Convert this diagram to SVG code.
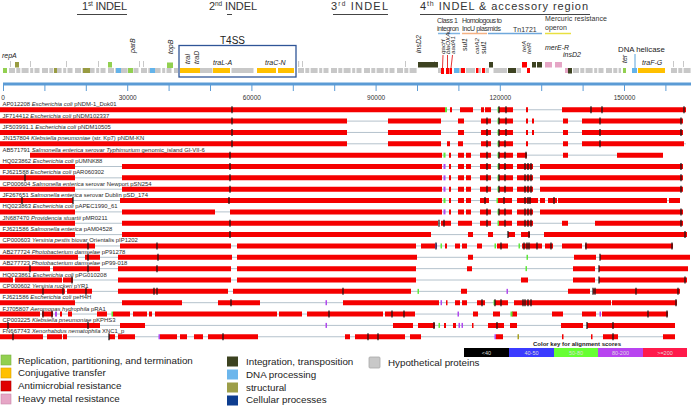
<svg xmlns="http://www.w3.org/2000/svg" width="691" height="406" viewBox="0 0 691 406">
<style>
text{font-family:"Liberation Sans",Arial,sans-serif;fill:#222}
.hd{font-size:11px;fill:#333}
.cat{font-size:7px;fill:#333}
.gl{font-size:7px;font-style:italic;fill:#222}
.gs{font-size:6.2px;font-style:italic;fill:#222}
.ax{font-size:6.5px;fill:#333;text-anchor:middle}
.lbl{font-size:5.9px;fill:#2a2a2a}
.i{font-style:italic}
.lg{font-size:9.8px;fill:#222}
.r{fill:#f50000}
.bb{stroke:#b4c2cc;stroke-width:1}
.tk{stroke:#151515;stroke-width:1.2;fill:none}
.gm{fill:#5ee83a}
.pm{fill:#b048ee}
.gd{stroke:#c8c8c8;stroke-width:5;stroke-dasharray:6 1.3 4 1.3 7 1.6 3 1.3 5 2.5}
.gy{fill:#c8c8c8}
.grn{fill:#92d050}
.olv{fill:#989b41}
.blu{fill:#63b3ea}
.yel{fill:#ffc000}
.dol{fill:#3d4221}
.red{fill:#ff0000}
.pnk{fill:#e5a5c5}
.ul{stroke:#444;stroke-width:1}
.ck{font-size:5.5px;fill:#ddd;text-anchor:middle}
</style>

<g id="headers">
<text class="hd" x="82" y="10" textLength="45">1<tspan font-size="6.5" dy="-4">st</tspan><tspan dy="4"> INDEL</tspan></text>
<line class="ul" x1="77" y1="14.5" x2="127" y2="14.5"/>
<text class="hd" x="209" y="10" textLength="48">2<tspan font-size="6.5" dy="-4">nd</tspan><tspan dy="4"> INDEL</tspan></text>
<line class="ul" x1="227" y1="14.5" x2="232" y2="14.5"/>
<text class="hd" x="331" y="10" textLength="57">3<tspan font-size="6.5" dy="-4">rd</tspan><tspan dy="4"> INDEL</tspan></text>
<line class="ul" x1="333" y1="14.5" x2="388" y2="14.5"/>
<text class="hd" x="420" y="10" font-size="12" textLength="168">4<tspan font-size="7" dy="-4">th</tspan><tspan dy="4"> INDEL &amp; accessory region</tspan></text>
<line class="ul" x1="420" y1="14.5" x2="590" y2="14.5"/>
</g>

<g id="categories">
<text class="cat" x="437" y="23" textLength="21">Class 1</text>
<text class="cat" x="437" y="31" textLength="22">integron</text>
<line x1="438" y1="33.5" x2="460" y2="33.5" stroke="#7fb5e3" stroke-width="1.5"/>
<text class="cat" x="462" y="23" textLength="40">Homologous to</text>
<text class="cat" x="462" y="31" textLength="39">IncU plasmids</text>
<line x1="462" y1="33.5" x2="487" y2="33.5" stroke="#f4b183" stroke-width="1.5"/>
<text class="cat" x="513" y="31.5" font-size="8">Tn1721</text>
<line x1="488" y1="33.5" x2="542" y2="33.5" stroke="#6fa8dc" stroke-width="1.5"/>
<text class="cat" x="545" y="21" textLength="62">Mercuric resistance</text>
<text class="cat" x="545" y="29.5">operon</text>
<line x1="545" y1="33.5" x2="571" y2="33.5" stroke="#e8e040" stroke-width="1.5"/>
</g>

<g id="t4ss">
<rect x="179" y="45.5" width="117" height="31.5" fill="none" stroke="#2f5597" stroke-width="1.3"/>
<text x="232.5" y="44" font-size="10" text-anchor="middle" fill="#222">T4SS</text>
</g>

<g id="gene-track">
<line class="gd" x1="9" y1="70.5" x2="178" y2="70.5"/>
<line class="gd" x1="298" y1="70.5" x2="417" y2="70.5"/>
<line class="gd" x1="573" y1="70.5" x2="621" y2="70.5"/>
<line class="gd" x1="671" y1="70.5" x2="691" y2="70.5"/>
<g class="gy">
<rect x="438" y="68" width="3" height="5"/><rect x="459" y="68" width="2" height="5"/><rect x="466" y="68" width="9" height="5"/>
<rect x="479" y="68" width="2" height="5"/><rect x="485.5" y="68" width="3.5" height="5"/><rect x="493.5" y="68" width="13.5" height="5"/>
<rect x="516.5" y="68" width="4.5" height="5"/><rect x="200" y="68" width="12.5" height="5"/><rect x="231.5" y="68" width="22" height="5"/>
<rect x="10" y="61" width="1" height="6"/><rect x="30" y="61" width="1" height="6"/><rect x="66" y="61" width="1" height="6"/>
<rect x="98" y="61" width="1" height="6"/><rect x="139" y="61" width="1" height="6"/><rect x="143" y="61" width="1" height="6"/>
<rect x="298" y="61" width="1.2" height="6"/><rect x="302" y="61" width="1" height="6"/><rect x="405" y="61" width="1" height="6"/>
<rect x="434" y="61" width="1" height="6"/><rect x="673" y="61" width="1" height="6"/><rect x="683" y="61" width="1" height="6"/>
</g>
<g class="grn">
<rect x="3" y="68" width="4" height="5"/><rect x="108" y="62" width="4" height="5.5"/><rect x="128" y="68" width="5" height="5"/>
<rect x="167" y="62.5" width="6" height="5.5"/><rect x="623" y="68" width="3" height="5"/>
</g>
<g class="olv">
<rect x="15" y="62" width="4" height="5.5"/><rect x="54" y="68" width="3" height="5"/><rect x="83" y="68" width="7" height="5"/>
</g>
<g class="blu">
<rect x="116" y="68" width="5" height="5"/><rect x="150" y="68" width="5" height="5"/><rect x="454" y="68" width="5" height="5"/><rect x="632" y="68" width="5" height="5"/>
</g>
<g class="yel">
<rect x="180" y="68" width="20" height="5"/><rect x="213" y="68" width="17" height="5"/><rect x="257" y="68" width="19" height="5"/>
<rect x="278" y="68" width="16" height="5"/><rect x="638" y="68" width="27" height="5"/>
</g>
<g class="dol">
<rect x="418" y="62" width="20" height="5.5"/><rect x="489" y="62" width="4" height="5.5"/><rect x="508" y="68" width="8" height="5"/>
<rect x="532" y="62" width="4" height="5.5"/><rect x="537" y="62" width="5" height="5.5"/><rect x="568" y="68" width="4" height="5.5"/>
</g>
<g class="red">
<rect x="441" y="68" width="3" height="6"/><rect x="446" y="68" width="3" height="6"/><rect x="449.5" y="68" width="2.5" height="6"/>
<rect x="461" y="68" width="4" height="5"/><rect x="476" y="68" width="2.5" height="5"/><rect x="482" y="68" width="3" height="5"/>
<rect x="522" y="62" width="5" height="5.5"/><rect x="527" y="68" width="3" height="5"/>
</g>
<g class="pnk">
<rect x="545" y="62" width="7" height="5.5"/><rect x="555" y="62" width="7" height="5.5"/><rect x="565" y="68" width="3" height="5"/>
</g>
<g stroke="#e00000" stroke-width="0.8">
<line x1="443" y1="55" x2="442.5" y2="68"/><line x1="447.5" y1="55" x2="447.5" y2="68"/><line x1="452.5" y1="55" x2="451" y2="68"/>
</g>
<line x1="635" y1="54" x2="635" y2="68" stroke="#5ba3dc" stroke-width="1"/>
<text class="gl" x="2" y="58">repA</text>
<text class="gl" transform="translate(134.5,53) rotate(-90)">parB</text>
<text class="gl" transform="translate(172.5,54) rotate(-90)">topB</text>
<text class="gl" transform="translate(189.5,64) rotate(-90)">traI</text>
<text class="gl" transform="translate(199,64) rotate(-90)">traD</text>
<text class="gl" x="213" y="65">traL-A</text>
<text class="gl" x="265" y="65">traC-N</text>
<text class="gl" transform="translate(421,53) rotate(-90)">insD2</text>
<text class="gs" transform="translate(445,54) rotate(-90)">qacH</text>
<text class="gs" transform="translate(449.5,54) rotate(-90)">blaOXA</text>
<text class="gs" transform="translate(454.5,54) rotate(-90)">aadA1</text>
<text class="gl" transform="translate(466.5,51) rotate(-90)">sul1</text>
<text class="gs" transform="translate(478.5,54) rotate(-90)">catA2</text>
<text class="gl" transform="translate(485.5,54) rotate(-90)">sul1</text>
<text class="gs" transform="translate(525.5,52) rotate(-90)">tetA</text>
<text class="gs" transform="translate(530.5,54) rotate(-90)">tetR</text>
<text class="gl" x="545" y="50">merE-R</text>
<text class="gl" x="563" y="57">insD2</text>
<text class="gl" transform="translate(626.5,63) rotate(-90)">ter</text>
<text x="618" y="52" font-size="7.8" fill="#222">DNA helicase</text>
<text class="gl" x="642" y="65">traF-G</text>
</g>

<g id="axis">
<line x1="3" y1="84" x2="691" y2="84" stroke="#5b9bd5" stroke-width="3"/>
<path d="M3.5 84V91M44.9 84V91M86.3 84V91M127.7 84V91M169.1 84V91M210.5 84V91M251.9 84V91M293.3 84V91M334.7 84V91M376.1 84V91M417.5 84V91M458.9 84V91M500.3 84V91M541.7 84V91M583.1 84V91M624.5 84V91M665.9 84V91" stroke="#5b9bd5" stroke-width="1"/>
<text class="ax" x="3" y="99.5">0</text>
<text class="ax" x="127.7" y="99.5">30000</text>
<text class="ax" x="251.9" y="99.5">60000</text>
<text class="ax" x="376.1" y="99.5">90000</text>
<text class="ax" x="500.3" y="99.5">120000</text>
<text class="ax" x="624.5" y="99.5">150000</text>
</g>

<g id="alignments">
<g id="row1" transform="translate(0,109.75)">
<line class="bb" x1="0" y1="0" x2="686" y2="0"/>
<path class="r" d="M0-2.5H445V2.5H0ZM450-2.5H452V2.5H450ZM460-2.5H473V2.5H460ZM481-2.5H484V2.5H481ZM485-2.5H491V2.5H485ZM498-2.5H513V2.5H498ZM526-2.5H528V2.5H526ZM562-2.5H686V2.5H562Z"/>
<rect class="gm" x="445" y="-2.5" width="2" height="5"/><rect class="gm" x="497.5" y="-2.5" width="1.5" height="5"/>
<path class="tk" d="M232-3.5V3.5M499-3.5V3.5M506-3.5V3.5M591-3.5V3.5M602-3.5V3.5M684-3.5V3.5"/>
<text class="lbl" x="2.5" y="-3.5">AP012208 <tspan class="i">Escherichia coli</tspan> pNDM-1_Dok01</text>
</g>
<g id="row2" transform="translate(0,121.1)">
<line class="bb" x1="0" y1="0" x2="683" y2="0"/>
<path class="r" d="M0-2.5H347V2.5H0ZM388-2.5H441V2.5H388ZM458-2.5H464V2.5H458ZM481-2.5H491V2.5H481ZM498-2.5H513V2.5H498ZM526-2.5H528V2.5H526ZM532-2.5H534V2.5H532ZM563-2.5H568V2.5H563ZM582-2.5H683V2.5H582Z"/>
<rect class="gm" x="497.5" y="-2.5" width="1.5" height="5"/>
<path class="tk" d="M232-3.5V3.5M487-3.5V3.5M499-3.5V3.5M506-3.5V3.5M600-3.5V3.5M681-3.5V3.5"/>
<text class="lbl" x="2.5" y="-3.5">JF714412 <tspan class="i">Escherichia coli</tspan> pNDM102337</text>
</g>
<g id="row3" transform="translate(0,132.45)">
<line class="bb" x1="0" y1="0" x2="683" y2="0"/>
<path class="r" d="M0-2.5H347V2.5H0ZM388-2.5H441V2.5H388ZM458-2.5H464V2.5H458ZM481-2.5H491V2.5H481ZM498-2.5H513V2.5H498ZM526-2.5H528V2.5H526ZM532-2.5H534V2.5H532ZM563-2.5H568V2.5H563ZM582-2.5H683V2.5H582Z"/>
<rect class="gm" x="497.5" y="-2.5" width="1.5" height="5"/>
<path class="tk" d="M232-3.5V3.5M487-3.5V3.5M499-3.5V3.5M506-3.5V3.5M600-3.5V3.5M681-3.5V3.5"/>
<text class="lbl" x="2.5" y="-3.5">JF503991.1 <tspan class="i">Escherichia coli</tspan> pNDM10505</text>
</g>
<g id="row4" transform="translate(0,143.8)">
<line class="bb" x1="0" y1="0" x2="686" y2="0"/>
<path class="r" d="M0-2.5H347V2.5H0ZM388-2.5H441V2.5H388ZM447-2.5H450V2.5H447ZM458-2.5H463V2.5H458ZM481-2.5H491V2.5H481ZM498-2.5H513V2.5H498ZM526-2.5H528V2.5H526ZM563-2.5H568V2.5H563ZM582-2.5H684V2.5H582Z"/>
<rect class="gm" x="497.5" y="-2.5" width="1.5" height="5"/>
<path class="tk" d="M232-3.5V3.5M487-3.5V3.5M499-3.5V3.5M505-3.5V3.5M600-3.5V3.5"/>
<text class="lbl" x="2.5" y="-3.5">JN157804 <tspan class="i">Klebsiella pneumoniae</tspan> (str. Kp7) pNDM-KN</text>
</g>
<g id="row5" transform="translate(0,155.15)">
<line class="bb" x1="30" y1="0" x2="663" y2="0"/>
<path class="r" d="M30-2.5H442V2.5H30ZM449-2.5H451V2.5H449ZM458-2.5H464V2.5H458ZM466-2.5H471V2.5H466ZM480-2.5H491V2.5H480ZM498-2.5H513V2.5H498ZM517-2.5H527V2.5H517ZM563-2.5H568V2.5H563ZM617-2.5H663V2.5H617Z"/>
<rect class="gm" x="443.5" y="-2.5" width="2" height="5"/><rect class="gm" x="497.5" y="-2.5" width="1.5" height="5"/>
<path class="tk" d="M230-3.5V3.5M487-3.5V3.5M499-3.5V3.5M505-3.5V3.5M526-3.5V3.5"/>
<text class="lbl" x="2.5" y="-3.5">AB571791 <tspan class="i">Salmonella enterica serovar Typhimurium</tspan> genomic_island GI-VII-6</text>
</g>
<g id="row6" transform="translate(0,166.5)">
<line class="bb" x1="0" y1="0" x2="683" y2="0"/>
<path class="r" d="M0-2.5H75V2.5H0ZM122-2.5H442V2.5H122ZM449-2.5H451V2.5H449ZM458-2.5H464V2.5H458ZM466-2.5H471V2.5H466ZM480-2.5H491V2.5H480ZM498-2.5H513V2.5H498ZM517-2.5H533V2.5H517ZM540-2.5H683V2.5H540Z"/>
<rect class="pm" x="443.5" y="-2.5" width="2" height="5"/><rect class="gm" x="497.5" y="-2.5" width="1.5" height="5"/>
<path class="tk" d="M230-3.5V3.5M487-3.5V3.5M499-3.5V3.5M505-3.5V3.5M525-3.5V3.5M528-3.5V3.5M531-3.5V3.5M681-3.5V3.5"/>
<text class="lbl" x="2.5" y="-3.5">HQ023862 <tspan class="i">Escherichia coli</tspan> pUMNK88</text>
</g>
<g id="row7" transform="translate(0,177.85)">
<line class="bb" x1="0" y1="0" x2="683" y2="0"/>
<path class="r" d="M0-2.5H75V2.5H0ZM122-2.5H442V2.5H122ZM449-2.5H451V2.5H449ZM458-2.5H464V2.5H458ZM466-2.5H471V2.5H466ZM480-2.5H491V2.5H480ZM498-2.5H513V2.5H498ZM517-2.5H533V2.5H517ZM540-2.5H683V2.5H540Z"/>
<rect class="pm" x="443.5" y="-2.5" width="2" height="5"/><rect class="gm" x="497.5" y="-2.5" width="1.5" height="5"/>
<path class="tk" d="M25-3.5V3.5M230-3.5V3.5M487-3.5V3.5M499-3.5V3.5M505-3.5V3.5M525-3.5V3.5M528-3.5V3.5M531-3.5V3.5M681-3.5V3.5"/>
<text class="lbl" x="2.5" y="-3.5">FJ621588 <tspan class="i">Escherichia coli</tspan> pAR060302</text>
</g>
<g id="row8" transform="translate(0,189.2)">
<line class="bb" x1="0" y1="0" x2="683" y2="0"/>
<path class="r" d="M0-2.5H75V2.5H0ZM122-2.5H442V2.5H122ZM449-2.5H451V2.5H449ZM458-2.5H464V2.5H458ZM466-2.5H471V2.5H466ZM480-2.5H491V2.5H480ZM498-2.5H513V2.5H498ZM517-2.5H533V2.5H517ZM540-2.5H683V2.5H540Z"/>
<rect class="pm" x="443.5" y="-2.5" width="2" height="5"/><rect class="gm" x="497.5" y="-2.5" width="1.5" height="5"/>
<path class="tk" d="M230-3.5V3.5M487-3.5V3.5M499-3.5V3.5M505-3.5V3.5M525-3.5V3.5M528-3.5V3.5M531-3.5V3.5M681-3.5V3.5"/>
<text class="lbl" x="2.5" y="-3.5">CP000604 <tspan class="i">Salmonella enterica</tspan> serovar Newport pSN254</text>
</g>
<g id="row9" transform="translate(0,200.55)">
<line class="bb" x1="0" y1="0" x2="680" y2="0"/>
<path class="r" d="M0-2.5H73V2.5H0ZM120-2.5H442V2.5H120ZM449-2.5H451V2.5H449ZM458-2.5H464V2.5H458ZM466-2.5H471V2.5H466ZM480-2.5H489V2.5H480ZM497-2.5H512V2.5H497ZM517-2.5H538V2.5H517ZM540-2.5H545V2.5H540ZM548-2.5H557V2.5H548ZM558-2.5H667V2.5H558ZM669-2.5H680V2.5H669Z"/>
<rect class="gm" x="443.5" y="-2.5" width="2" height="5"/><rect class="gm" x="496.5" y="-2.5" width="1.5" height="5"/>
<path class="tk" d="M22-3.5V3.5M73-3.5V3.5M229-3.5V3.5M485-3.5V3.5M504-3.5V3.5M525-3.5V3.5M528-3.5V3.5M530-3.5V3.5M554-3.5V3.5"/>
<text class="lbl" x="2.5" y="-3.5">JF267651 <tspan class="i">Salmonella enterica</tspan> serovar Dublin pSD_174</text>
</g>
<g id="row10" transform="translate(0,211.9)">
<line class="bb" x1="0" y1="0" x2="683" y2="0"/>
<path class="r" d="M0-2.5H75V2.5H0ZM122-2.5H215V2.5H122ZM230-2.5H442V2.5H230ZM449-2.5H451V2.5H449ZM458-2.5H464V2.5H458ZM466-2.5H471V2.5H466ZM480-2.5H491V2.5H480ZM498-2.5H512V2.5H498ZM517-2.5H533V2.5H517ZM540-2.5H683V2.5H540Z"/>
<rect class="pm" x="443.5" y="-2.5" width="2" height="5"/><rect class="gm" x="497.5" y="-2.5" width="1.5" height="5"/>
<path class="tk" d="M487-3.5V3.5M499-3.5V3.5M505-3.5V3.5M525-3.5V3.5M528-3.5V3.5M531-3.5V3.5M681-3.5V3.5"/>
<text class="lbl" x="2.5" y="-3.5">HQ023863 <tspan class="i">Escherichia coli</tspan> pAPEC1990_61</text>
</g>
<g id="row11" transform="translate(0,223.25)">
<line class="bb" x1="0" y1="0" x2="683" y2="0"/>
<path class="r" d="M0-2.5H75V2.5H0ZM122-2.5H438V2.5H122ZM441-2.5H451V2.5H441ZM458-2.5H472V2.5H458ZM480-2.5H491V2.5H480ZM498-2.5H512V2.5H498ZM517-2.5H533V2.5H517ZM562-2.5H568V2.5H562ZM595-2.5H683V2.5H595Z"/>
<rect class="gm" x="497.5" y="-2.5" width="1.5" height="5"/>
<path class="tk" d="M230-3.5V3.5M439-3.5V3.5M444-3.5V3.5M487-3.5V3.5M505-3.5V3.5M525-3.5V3.5M528-3.5V3.5M531-3.5V3.5M681-3.5V3.5"/>
<text class="lbl" x="2.5" y="-3.5">JN687470 <tspan class="i">Providencia stuartii</tspan> pMR0211</text>
</g>
<g id="row12" transform="translate(0,234.6)">
<line class="bb" x1="0" y1="0" x2="687" y2="0"/>
<path class="r" d="M0-2.5H75V2.5H0ZM122-2.5H431V2.5H122ZM468-2.5H473V2.5H468ZM488-2.5H493V2.5H488ZM508-2.5H515V2.5H508ZM521-2.5H530V2.5H521ZM544-2.5H687V2.5H544Z"/>
<path class="tk" d="M230-3.5V3.5M508-3.5V3.5M529-3.5V3.5M685-3.5V3.5"/>
<text class="lbl" x="2.5" y="-3.5">FJ621586 <tspan class="i">Salmonella enterica</tspan> pAM04528</text>
</g>
<g id="row13" transform="translate(0,245.95)">
<line class="bb" x1="0" y1="0" x2="673" y2="0"/>
<path class="r" d="M0-2.5H95V2.5H0ZM120-2.5H231V2.5H120ZM237-2.5H416V2.5H237ZM421-2.5H435V2.5H421ZM445-2.5H447V2.5H445ZM455-2.5H460V2.5H455ZM462-2.5H467V2.5H462ZM477-2.5H482V2.5H477ZM497-2.5H508V2.5H497ZM522-2.5H542V2.5H522ZM545-2.5H553V2.5H545ZM562-2.5H582V2.5H562ZM585-2.5H673V2.5H585Z"/>
<rect class="pm" x="435.5" y="-2.5" width="1.5" height="5"/><rect class="gm" x="440.5" y="-2.5" width="1.5" height="5"/><rect class="gm" x="494.5" y="-2.5" width="1.5" height="5"/><rect class="gm" x="518.5" y="-2.5" width="1.5" height="5"/>
<path class="tk" d="M88-3.5V3.5M157-3.5V3.5M436-3.5V3.5M501-3.5V3.5M524-3.5V3.5M527-3.5V3.5M529-3.5V3.5M537-3.5V3.5M551-3.5V3.5M586-3.5V3.5M672-3.5V3.5"/>
<text class="lbl" x="2.5" y="-3.5">CP000603 <tspan class="i">Yersinia pestis</tspan> biovar Orientalis pIP1202</text>
</g>
<g id="row14" transform="translate(0,257.3)">
<line class="bb" x1="0" y1="0" x2="690" y2="0"/>
<path class="r" d="M0-2.5H78V2.5H0ZM85-2.5H100V2.5H85ZM118-2.5H232V2.5H118ZM237-2.5H417V2.5H237ZM468-2.5H473V2.5H468ZM574-2.5H596V2.5H574ZM600-2.5H690V2.5H600Z"/>
<rect class="gm" x="526.5" y="-2.5" width="1.5" height="5"/>
<path class="tk" d="M88-3.5V3.5M158-3.5V3.5M600-3.5V3.5"/>
<text class="lbl" x="2.5" y="-3.5">AB277724 <tspan class="i">Photobacterium damselae</tspan> pP91278</text>
</g>
<g id="row15" transform="translate(0,268.65)">
<line class="bb" x1="0" y1="0" x2="688" y2="0"/>
<path class="r" d="M0-2.5H50V2.5H0ZM53-2.5H100V2.5H53ZM118-2.5H231V2.5H118ZM237-2.5H416V2.5H237ZM467-2.5H472V2.5H467ZM573-2.5H595V2.5H573ZM599-2.5H688V2.5H599Z"/>
<rect class="gm" x="525.5" y="-2.5" width="1.5" height="5"/>
<path class="tk" d="M30-3.5V3.5M88-3.5V3.5M157-3.5V3.5M599-3.5V3.5"/>
<text class="lbl" x="2.5" y="-3.5">AB277723 <tspan class="i">Photobacterium damselae</tspan> pP99-018</text>
</g>
<g id="row16" transform="translate(0,280)">
<line class="bb" x1="0" y1="0" x2="687" y2="0"/>
<path class="r" d="M0-2.5H13V2.5H0ZM15-2.5H62V2.5H15ZM63-2.5H73V2.5H63ZM118-2.5H231V2.5H118ZM237-2.5H416V2.5H237ZM521-2.5H528V2.5H521ZM573-2.5H595V2.5H573ZM599-2.5H687V2.5H599Z"/>
<path class="tk" d="M72-3.5V3.5M599-3.5V3.5M685-3.5V3.5"/>
<text class="lbl" x="2.5" y="-3.5">HQ023861 <tspan class="i">Escherichia coli</tspan> pPG010208</text>
</g>
<g id="row17" transform="translate(0,291.35)">
<line class="bb" x1="0" y1="0" x2="680" y2="0"/>
<path class="r" d="M0-2.5H65V2.5H0ZM67-2.5H92V2.5H67ZM118-2.5H228V2.5H118ZM233-2.5H411V2.5H233ZM461-2.5H467V2.5H461ZM568-2.5H590V2.5H568ZM593-2.5H680V2.5H593Z"/>
<rect class="gm" x="417.5" y="-2.5" width="1.5" height="5"/><rect class="pm" x="506.5" y="-2.5" width="1.5" height="5"/>
<path class="tk" d="M43-3.5V3.5M63-3.5V3.5M86-3.5V3.5M154-3.5V3.5M157-3.5V3.5M343-3.5V3.5M593-3.5V3.5M595-3.5V3.5M636-3.5V3.5M678-3.5V3.5"/>
<text class="lbl" x="2.5" y="-3.5">CP000602 <tspan class="i">Yersinia ruckeri</tspan> pYR1</text>
</g>
<g id="row18" transform="translate(0,302.7)">
<line class="bb" x1="0" y1="0" x2="677" y2="0"/>
<path class="r" d="M0-2.5H75V2.5H0ZM122-2.5H182V2.5H122ZM218-2.5H260V2.5H218ZM343-2.5H439V2.5H343ZM446-2.5H447.5V2.5H446ZM455-2.5H460V2.5H455ZM462-2.5H467V2.5H462ZM477-2.5H485V2.5H477ZM494-2.5H508V2.5H494ZM514-2.5H611V2.5H514ZM612-2.5H677V2.5H612Z"/>
<rect class="pm" x="325.5" y="-2.5" width="1.5" height="5"/><rect class="pm" x="440.5" y="-2.5" width="1.5" height="5"/><rect class="gm" x="493.5" y="-2.5" width="1.5" height="5"/>
<path class="tk" d="M231-3.5V3.5M482-3.5V3.5M495-3.5V3.5M501-3.5V3.5M523-3.5V3.5M525-3.5V3.5M528-3.5V3.5M531-3.5V3.5M676-3.5V3.5"/>
<text class="lbl" x="2.5" y="-3.5">FJ621586 <tspan class="i">Escherichia coli</tspan> peH4H</text>
</g>
<g id="row19" transform="translate(0,314.05)">
<line class="bb" x1="0" y1="0" x2="668" y2="0"/>
<path class="r" d="M0-2.5H40V2.5H0ZM42-2.5H53V2.5H42ZM60-2.5H62V2.5H60ZM68-2.5H72V2.5H68ZM97-2.5H107V2.5H97ZM113-2.5H130V2.5H113ZM133-2.5H147V2.5H133ZM149-2.5H152V2.5H149ZM155-2.5H277V2.5H155ZM279-2.5H302V2.5H279ZM307-2.5H383V2.5H307ZM385-2.5H415V2.5H385ZM473-2.5H478V2.5H473ZM493-2.5H500V2.5H493ZM512-2.5H517V2.5H512ZM552-2.5H563V2.5H552ZM582-2.5H596V2.5H582ZM602-2.5H668V2.5H602Z"/>
<rect class="pm" x="55" y="-2.5" width="2" height="5"/><rect class="gm" x="111.5" y="-2.5" width="1.5" height="5"/><rect class="pm" x="457.5" y="-2.5" width="1.5" height="5"/><rect class="gm" x="510.5" y="-2.5" width="2" height="5"/><rect class="pm" x="599.5" y="-2.5" width="1.5" height="5"/>
<path class="tk" d="M43-3.5V3.5M52-3.5V3.5M329-3.5V3.5M392-3.5V3.5M404-3.5V3.5M648-3.5V3.5M667-3.5V3.5"/>
<text class="lbl" x="2.5" y="-3.5">FJ705807 <tspan class="i">Aeromonas hydrophila</tspan> pRA1</text>
</g>
<g id="row20" transform="translate(0,325.4)">
<line class="bb" x1="0" y1="0" x2="675" y2="0"/>
<path class="r" d="M0-2.5H100V2.5H0ZM120-2.5H145V2.5H120ZM393-2.5H413V2.5H393ZM418-2.5H435V2.5H418ZM444-2.5H446V2.5H444ZM453-2.5H456V2.5H453ZM472-2.5H473.5V2.5H472ZM488-2.5H504V2.5H488ZM510-2.5H517V2.5H510ZM561-2.5H583V2.5H561ZM587-2.5H675V2.5H587Z"/>
<rect class="pm" x="325.5" y="-2.5" width="1.5" height="5"/><rect class="gm" x="438.5" y="-2.5" width="1.5" height="5"/><rect class="pm" x="458.5" y="-2.5" width="1.5" height="5"/><rect class="pm" x="461.5" y="-2.5" width="1.5" height="5"/>
<path class="tk" d="M8-3.5V3.5M88-3.5V3.5M434-3.5V3.5M497-3.5V3.5M587-3.5V3.5M613-3.5V3.5"/>
<text class="lbl" x="2.5" y="-3.5">CP003225 <tspan class="i">Klebsiella pneumoniae</tspan> pKPHS3</text>
</g>
<g id="row21" transform="translate(0,336.75)">
<line class="bb" x1="0" y1="0" x2="675" y2="0"/>
<path class="r" d="M0-2.5H43V2.5H0ZM47-2.5H62V2.5H47ZM63-2.5H67V2.5H63ZM109-2.5H115V2.5H109ZM118-2.5H135V2.5H118ZM160-2.5H177V2.5H160ZM180-2.5H187V2.5H180ZM194-2.5H203V2.5H194ZM208-2.5H258V2.5H208ZM345-2.5H350V2.5H345ZM355-2.5H405V2.5H355ZM410-2.5H421V2.5H410ZM496-2.5H503V2.5H496ZM562-2.5H563.5V2.5H562ZM591-2.5H592.5V2.5H591ZM603-2.5H618V2.5H603ZM663-2.5H675V2.5H663Z"/>
<rect class="pm" x="158.5" y="-2.5" width="1.5" height="5"/><rect class="pm" x="494.5" y="-2.5" width="1.5" height="5"/><rect x="517.5" y="-2.5" width="1.5" height="5" fill="#a8a020"/>
<path class="tk" d="M13-3.5V3.5M109-3.5V3.5M223-3.5V3.5M368-3.5V3.5M378-3.5V3.5M613-3.5V3.5"/>
<text class="lbl" x="2.5" y="-3.5">FN667743 <tspan class="i">Xenorhabdus nematophila</tspan> XNC1_p</text>
</g>
</g>

<g id="color-key">
<text x="577" y="345.5" font-size="6" font-weight="bold" text-anchor="middle" fill="#222">Color key for alignment scores</text>
<rect x="464" y="348" width="45" height="9" fill="#000"/>
<rect x="509" y="348" width="45" height="9" fill="#3b3bff"/>
<rect x="554" y="348" width="44" height="9" fill="#66ff33"/>
<rect x="598" y="348" width="45" height="9" fill="#b844f0"/>
<rect x="643" y="348" width="44" height="9" fill="#ff1a4b"/>
<text class="ck" x="486.5" y="354.5">&lt;40</text>
<text class="ck" x="531.5" y="354.5">40-50</text>
<text class="ck" x="576" y="354.5">50-80</text>
<text class="ck" x="620.5" y="354.5">80-200</text>
<text class="ck" x="665" y="354.5">&gt;=200</text>
</g>

<g id="legend">
<rect x="1" y="355" width="10" height="10" fill="#92d050" stroke="#7aaf40" stroke-width="0.6"/>
<text class="lg" x="18" y="363.5">Replication, partitioning, and termination</text>
<rect x="1" y="368" width="10" height="10" fill="#ffc000" stroke="#d9a000" stroke-width="0.6"/>
<text class="lg" x="18" y="376">Conjugative transfer</text>
<rect x="1" y="381" width="10" height="10" fill="#e00000" stroke="#b00000" stroke-width="0.6"/>
<text class="lg" x="18" y="389">Antimicrobial resistance</text>
<rect x="1" y="394" width="10" height="10" fill="#e6a6c6" stroke="#c888a8" stroke-width="0.6"/>
<text class="lg" x="18" y="401.5">Heavy metal resistance</text>
<rect x="227" y="356.5" width="11" height="10" fill="#3c4220"/>
<text class="lg" x="246" y="365">Integration, transposition</text>
<rect x="227" y="369.5" width="11" height="10" fill="#6cb6ec"/>
<text class="lg" x="246" y="377.5">DNA processing</text>
<rect x="227" y="382.5" width="11" height="10" fill="#9c9e48"/>
<text class="lg" x="246" y="390.5">structural</text>
<rect x="227" y="395.5" width="11" height="10" fill="#0d3d8f"/>
<text class="lg" x="246" y="403">Cellular processes</text>
<rect x="369" y="357" width="11" height="11" rx="1" fill="#c8c8c8" stroke="#a8a8a8" stroke-width="0.8"/>
<text class="lg" x="388" y="366">Hypothetical proteins</text>
</g>
</svg>
